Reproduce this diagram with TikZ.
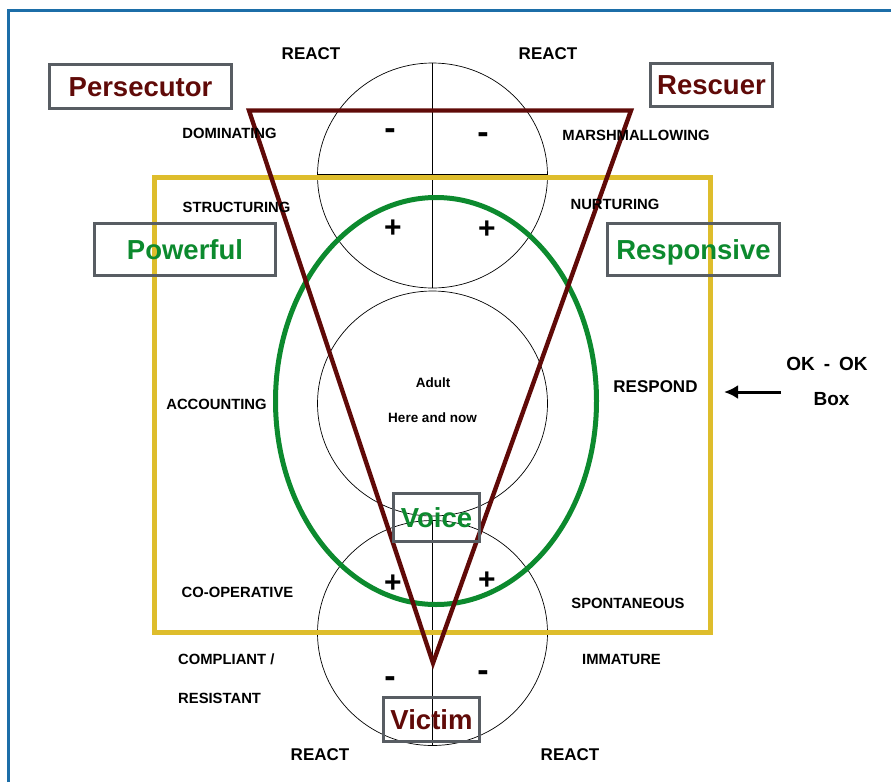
\documentclass[tikz,border=0pt]{standalone}
\usepackage{fontspec}
\setmainfont{Liberation Sans}
\usetikzlibrary{arrows.meta,positioning}
\definecolor{maroontri}{RGB}{96,10,8}
\definecolor{voicegreen}{RGB}{12,138,46}
\definecolor{okyellow}{RGB}{222,189,44}
\definecolor{boxgray}{RGB}{88,93,99}
\definecolor{frameblue}{RGB}{28,110,168}
\tikzset{
  role/.style={draw=boxgray, line width=2.8pt, inner sep=0pt,
    font=\bfseries\fontsize{27.5}{30}\selectfont, text height=19.7pt, text depth=0pt},
  word/.style={inner sep=0pt, font=\bfseries\fontsize{14.8}{16}\selectfont,
    text height=10.6pt, text depth=0pt},
  react/.style={inner sep=0pt, font=\bfseries\fontsize{17}{19}\selectfont,
    text height=12.2pt, text depth=0pt},
  sign/.style={inner sep=0pt, anchor=base, font=\bfseries\fontsize{30}{32}\selectfont},
}
\begin{document}
\begin{tikzpicture}[x=1pt,y=-1pt]
\useasboundingbox (0,0) rectangle (891,782);
% Frame
\draw[frameblue, line width=3pt] (8.3,782) -- (8.3,10.5) -- (891,10.5);

% Ego-state circles
\foreach \cy in {175.5,403.5,633}
  \draw[line width=0.7pt] (432.5,\cy) ellipse [x radius=115pt, y radius=112.5pt];
\draw[line width=0.7pt] (432.5,62.7) -- (432.5,288.3);
\draw[line width=0.7pt] (317.5,174) -- (547.5,174);
\draw[line width=0.7pt] (432.5,520) -- (432.5,746);
\draw[line width=0.7pt] (317.5,633) -- (547.5,633);

% OK-OK box
\draw[okyellow, line width=4.5pt] (154.5,177.5) rectangle (710.5,632.7);

% Voice ellipse
\draw[voicegreen, line width=5pt] (436,401) ellipse [x radius=160.5pt, y radius=203.5pt];

% Drama triangle
\draw[maroontri, line width=4.4pt] (249,110.5) -- (631,110.5) -- (433,663) -- cycle;

% Roles
\node[role, text=maroontri, minimum width=182pt, minimum height=44pt] (persecutor) at (140.5,86.5) {Persecutor};
\node[role, text=maroontri, minimum width=122pt, minimum height=43pt] (rescuer) at (711.5,85) {Rescuer};
\node[role, text=voicegreen, minimum width=181pt, minimum height=52pt] (powerful) at (185,249.5) {Powerful};
\node[role, text=voicegreen, minimum width=172pt, minimum height=52pt] (responsive) at (693.5,249.5) {Responsive};
\node[role, text=voicegreen, minimum width=86pt, minimum height=48pt] (voice) at (436.5,517.5) {Voice};
\node[role, text=maroontri, minimum width=96pt, minimum height=44pt] (victim) at (431.5,719.5) {Victim};

% Reactions
\node[react] (reacttl) at (311,53) {REACT};
\node[react] (reacttr) at (548,53) {REACT};
\node[react] (reactbl) at (320,754.5) {REACT};
\node[react] (reactbr) at (570,754.5) {REACT};
\node[react] (respond) at (655.5,386) {RESPOND};

% Behaviours
\node[word] (dominating) at (229.5,133.5) {DOMINATING};
\node[word] (marsh) at (636,135.5) {MARSHMALLOWING};
\node[word] (structuring) at (236.5,207) {STRUCTURING};
\node[word] (nurturing) at (615,204) {NURTURING};
\node[word] (accounting) at (216.5,404.5) {ACCOUNTING};
\node[word] (cooperative) at (237.5,592) {CO-OPERATIVE};
\node[word] (spontaneous) at (628,603) {SPONTANEOUS};
\node[word, anchor=west] (compliant) at (178,659) {COMPLIANT /};
\node[word, anchor=west] (resistant) at (178,698) {RESISTANT};
\node[word] (immature) at (621.5,659) {IMMATURE};

% Adult
\node[word, font=\bfseries\fontsize{13.5}{15}\selectfont, text height=9.8pt] (adult) at (433,383) {Adult};
\node[word, font=\bfseries\fontsize{13.5}{15}\selectfont, text height=9.8pt] (herenow) at (432.5,418) {Here and now};

% Signs
\node[sign, font=\bfseries\fontsize{34}{36}\selectfont] (mtl) at (390,139) {-};
\node[sign, font=\bfseries\fontsize{34}{36}\selectfont] (mtr) at (483,143) {-};
\node[sign] (ptl) at (393,237) {+};
\node[sign] (ptr) at (487,238) {+};
\node[sign] (pbl) at (393,592) {+};
\node[sign] (pbr) at (487,589) {+};
\node[sign, font=\bfseries\fontsize{34}{36}\selectfont] (mbl) at (390,687) {-};
\node[sign, font=\bfseries\fontsize{34}{36}\selectfont] (mbr) at (483,681) {-};

% OK - OK label
\node[react, font=\bfseries\fontsize{19}{21}\selectfont, text height=13.6pt] (okok) at (827,364) {OK\hspace{9pt}-\hspace{9pt}OK};
\node[react, font=\bfseries\fontsize{19}{21}\selectfont, text height=13.6pt] (okbox) at (831.5,399) {Box};
\coordinate (arrowstart) at (781,392);
\coordinate (arrowend) at (724,392);
\draw[line width=3pt, -{Latex[length=14pt,width=14pt]}] (arrowstart) -- (arrowend);
\end{tikzpicture}
\end{document}
